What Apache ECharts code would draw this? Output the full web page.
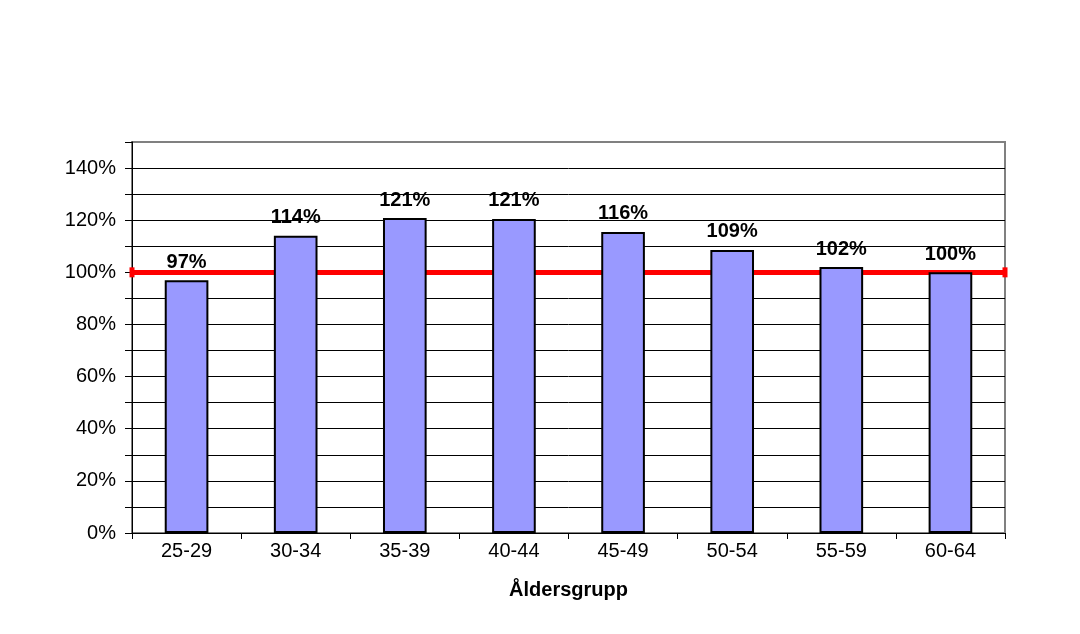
<!DOCTYPE html>
<html>
<head>
<meta charset="utf-8">
<script src="https://cdn.jsdelivr.net/npm/echarts@6/dist/echarts.min.js"></script>
<style>html,body{margin:0;padding:0;background:#fff;}#c{width:1080px;height:634px;}</style>
</head>
<body>
<div id="c"></div>
<script>
const categories = ['25-29','30-34','35-39','40-44','45-49','50-54','55-59','60-64'];
const values = [97, 114, 120.8, 120.5, 115.5, 108.6, 102, 100];
const referenceLevel = 100;
const xAxisTitle = 'Åldersgrupp';

const font = '"Liberation Sans", Arial, sans-serif';
const splitColors = [];
for (let i = 0; i < 15; i++) splitColors.push('#000');
splitColors.push('#808080');

const chart = echarts.init(document.getElementById('c'), null, {renderer: 'canvas'});
chart.setOption({
  animation: false,
  backgroundColor: '#fff',
  grid: {left: 132, right: 75, top: 142, bottom: 101, show: true, borderColor: '#808080', borderWidth: 2, backgroundColor: 'transparent'},
  xAxis: {
    type: 'category',
    data: categories,
    name: xAxisTitle,
    nameLocation: 'middle',
    nameGap: 47,
    nameTextStyle: {fontFamily: font, fontSize: 20, fontWeight: 'bold', color: '#000'},
    axisLine: {lineStyle: {color: '#000', width: 1}},
    axisTick: {show: true, length: 6, lineStyle: {color: '#000'}},
    axisLabel: {fontFamily: font, fontSize: 20, color: '#000', margin: 8}
  },
  yAxis: {
    type: 'value',
    min: 0, max: 150, interval: 10,
    axisLine: {show: true, lineStyle: {color: '#000', width: 1}},
    axisTick: {show: true, length: 7, lineStyle: {color: '#000'}},
    axisLabel: {fontFamily: font, fontSize: 20, color: '#000', margin: 16,
      formatter: v => (v % 20 === 0 && v < 150) ? v + '%' : ''},
    splitLine: {show: true, lineStyle: {color: splitColors, width: 1}}
  },
  series: [{
    type: 'bar',
    data: values,
    barWidth: '40%',
    itemStyle: {color: '#9999ff', borderColor: '#000', borderWidth: 2},
    label: {show: true, position: 'top', distance: 8, fontFamily: font, fontSize: 20, fontWeight: 'bold', color: '#000',
      formatter: p => Math.round(p.value) + '%'},
    markLine: {
      silent: true,
      symbol: ['rect', 'rect'],
      symbolSize: [10, 5],
      label: {show: false},
      lineStyle: {color: '#ff0000', width: 5, type: 'solid'},
      itemStyle: {color: '#ff0000'},
      data: [{yAxis: referenceLevel}],
      z: 1
    }
  }]
});
</script>
</body>
</html>
